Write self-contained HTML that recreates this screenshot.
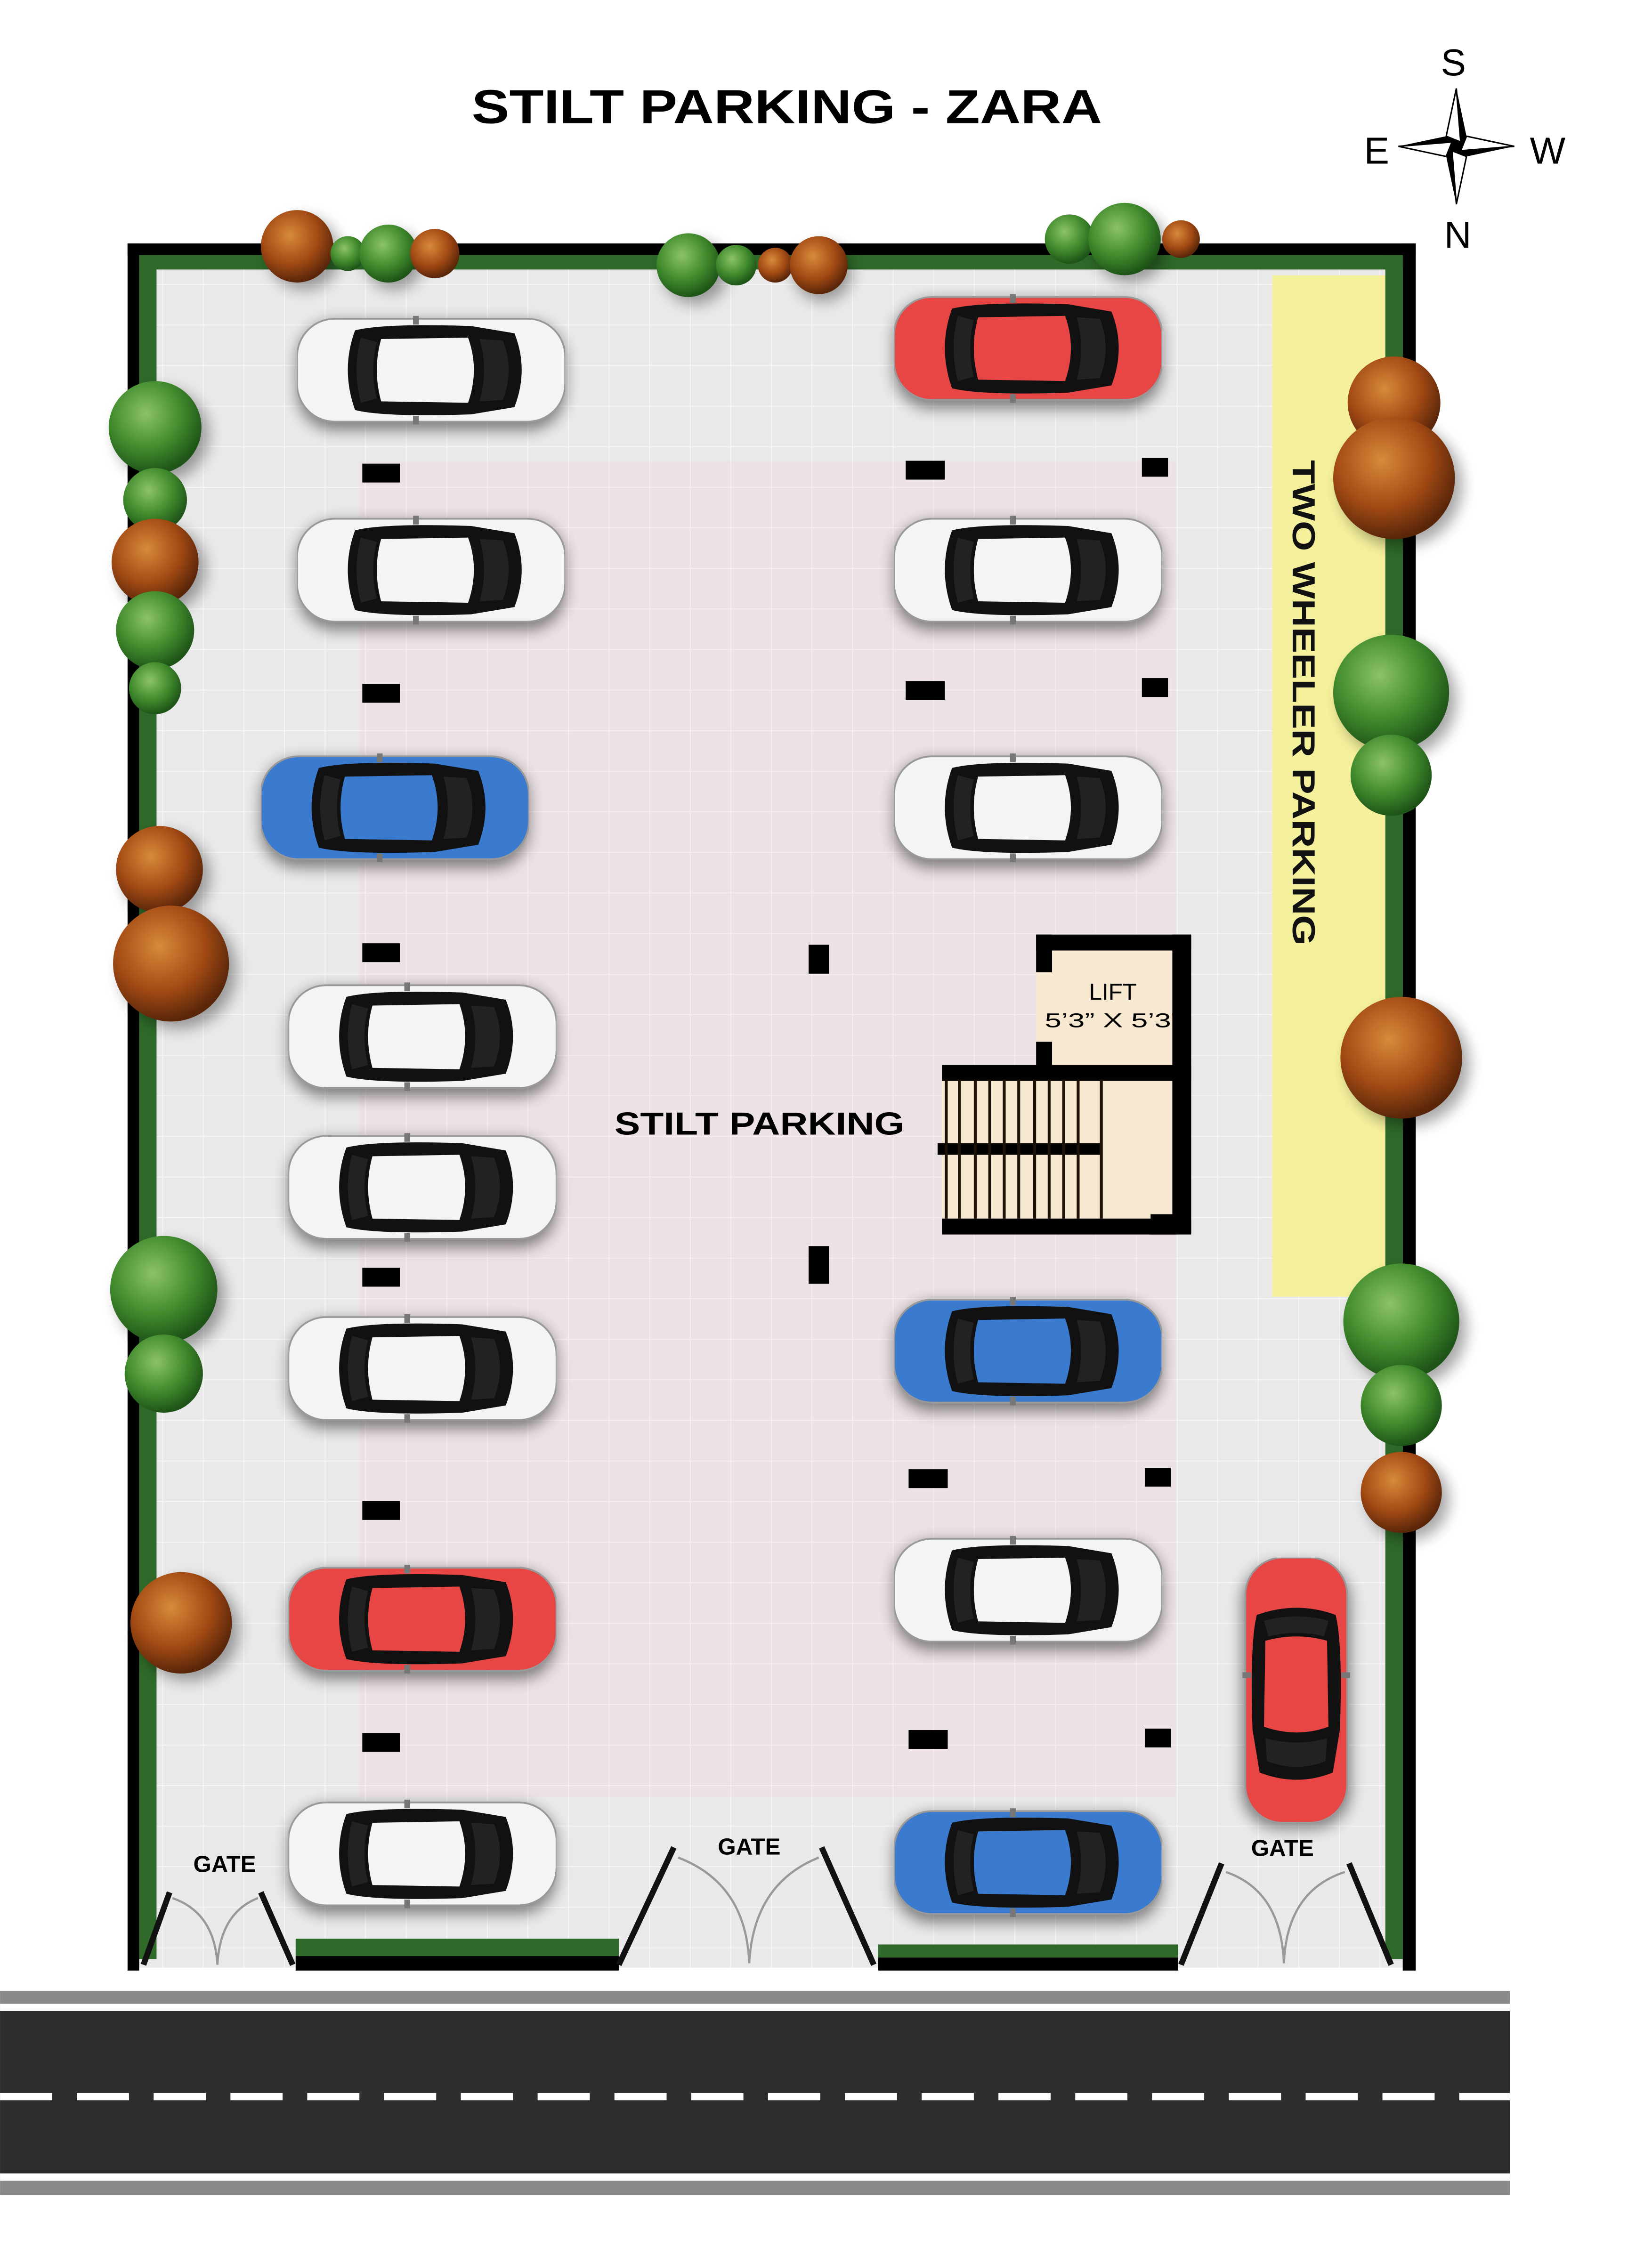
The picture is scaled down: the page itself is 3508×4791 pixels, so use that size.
<!DOCTYPE html>
<html><head><meta charset="utf-8"><style>
html,body{margin:0;padding:0;background:#fff}
svg{display:block}
text{font-family:"Liberation Sans",sans-serif}
</style></head><body>
<svg width="3508" height="4791" viewBox="0 0 1140 1557" xmlns="http://www.w3.org/2000/svg">
<defs>
<filter id="sh" x="-30%" y="-40%" width="160%" height="180%"><feGaussianBlur stdDeviation="5"/></filter>
<pattern id="tile" width="28" height="28" patternUnits="userSpaceOnUse"><rect width="28" height="28" fill="#e9e9ea"/><path d="M0 0H28M0 0V28" stroke="#f7f7f7" stroke-width="1.2"/></pattern>
<pattern id="tile2" width="28" height="28" patternUnits="userSpaceOnUse"><rect width="28" height="28" fill="#ece2e5"/><path d="M0 0H28M0 0V28" stroke="#f6eff1" stroke-width="1.2"/></pattern>
<radialGradient id="gG" cx="40%" cy="35%" r="65%"><stop offset="0" stop-color="#8cc26a"/><stop offset=".6" stop-color="#3f8a2c"/><stop offset="1" stop-color="#1f5418"/></radialGradient>
<radialGradient id="gB" cx="40%" cy="35%" r="65%"><stop offset="0" stop-color="#d88a3a"/><stop offset=".6" stop-color="#a24a14"/><stop offset="1" stop-color="#5a260a"/></radialGradient>
<symbol id="car" viewBox="0 0 185 75">
<rect x="0" y="2" width="185" height="71" rx="26" fill="currentColor" stroke="#999" stroke-width="1.2"/>
<path d="M40 10 Q60 5 120 7 L150 12 Q160 37 150 63 L120 68 Q60 70 40 65 Q30 37 40 10Z" fill="#111"/>
<path d="M58 16 L118 15 Q126 37 118 60 L58 59 Q52 37 58 16Z" fill="currentColor"/>
<path d="M44 15 L55 18 Q50 37 55 57 L44 60 Q38 37 44 15Z" fill="#222"/>
<path d="M126 16 L142 17 Q150 37 142 58 L126 59 Q132 37 126 16Z" fill="#222"/>
<rect x="80" y="0" width="4" height="6" fill="#777"/><rect x="80" y="69" width="4" height="6" fill="#777"/>
</symbol>
</defs>

<rect x="96" y="176" width="872" height="1182" fill="url(#tile)"/>
<rect x="248" y="318" width="564" height="922" fill="url(#tile2)"/>
<rect x="878" y="190" width="80" height="705" fill="#f4f09c"/>
<text transform="translate(892,485) rotate(90)" text-anchor="middle" font-size="22" font-weight="bold" fill="#111" textLength="335" lengthAdjust="spacingAndGlyphs">TWO WHEELER PARKING</text>

<rect x="96" y="176" width="12" height="1176" fill="#2f6a2a"/>
<rect x="96" y="176" width="872" height="10" fill="#2f6a2a"/>
<rect x="956" y="176" width="12" height="1176" fill="#2f6a2a"/>
<rect x="88" y="168" width="8" height="1192" fill="#000"/>
<rect x="88" y="168" width="889" height="8" fill="#000"/>
<rect x="968" y="168" width="9" height="1192" fill="#000"/>
<rect x="204" y="1338" width="223" height="12" fill="#2f6a2a"/>
<rect x="204" y="1350" width="223" height="10" fill="#000"/>
<rect x="606" y="1342" width="207" height="9" fill="#2f6a2a"/>
<rect x="606" y="1351" width="207" height="9" fill="#000"/>

<g stroke="#111" stroke-width="4" fill="none">
<path d="M99 1356 L117 1306 M202 1356 L180 1306"/>
<path d="M427 1356 L465 1275 M603 1356 L567 1275"/>
<path d="M815 1356 L843 1286 M960 1356 L931 1286"/>
</g>
<g stroke="#999" stroke-width="1.5" fill="none">
<path d="M119 1310 Q148 1320 150 1356 M178 1310 Q152 1320 150 1356"/>
<path d="M468 1282 Q515 1300 517 1355 M565 1282 Q520 1300 517 1355"/>
<path d="M846 1292 Q884 1305 886 1355 M928 1292 Q888 1305 886 1355"/>
</g>
<text x="155" y="1292" text-anchor="middle" font-size="16" font-weight="bold">GATE</text>
<text x="517" y="1280" text-anchor="middle" font-size="16" font-weight="bold">GATE</text>
<text x="885" y="1281" text-anchor="middle" font-size="16" font-weight="bold">GATE</text>

<g fill="#000">
<rect x="250" y="320" width="26" height="13"/><rect x="250" y="472" width="26" height="13"/><rect x="250" y="651" width="26" height="13"/><rect x="250" y="875" width="26" height="13"/><rect x="250" y="1036" width="26" height="13"/><rect x="250" y="1196" width="26" height="13"/>
<rect x="625" y="318" width="27" height="13"/><rect x="625" y="470" width="27" height="13"/><rect x="627" y="1014" width="27" height="13"/><rect x="627" y="1194" width="27" height="13"/>
<rect x="788" y="316" width="18" height="13"/><rect x="788" y="468" width="18" height="13"/><rect x="790" y="1013" width="18" height="13"/><rect x="790" y="1193" width="18" height="13"/>
<rect x="558" y="652" width="14" height="20"/><rect x="558" y="860" width="14" height="26"/>
</g>

<rect x="715" y="645" width="107" height="100" fill="#f7e8d2"/>
<rect x="650" y="745" width="172" height="100" fill="#f7e8d2"/>
<g fill="#000">
<rect x="715" y="645" width="107" height="11"/>
<rect x="715" y="645" width="11" height="26"/>
<rect x="715" y="719" width="11" height="20"/>
<rect x="809" y="645" width="13" height="206"/>
<rect x="650" y="735" width="172" height="11"/>
<rect x="650" y="841" width="172" height="11"/>
<rect x="794" y="838" width="18" height="14"/>
<rect x="647" y="789" width="112" height="8"/>
</g>
<g stroke="#1e120a" stroke-width="2">
<path d="M653 745V841M662 745V841M673 745V841M683 745V841M693 745V841M703 745V841M714 745V841M724 745V841M734 745V841M744 745V841M760 745V841"/>
</g>
<text x="768" y="690" text-anchor="middle" font-size="16">LIFT</text>
<text x="768" y="709" text-anchor="middle" font-size="14" textLength="94" lengthAdjust="spacingAndGlyphs">5’3” X 5’3”</text>
<text x="524" y="783" text-anchor="middle" font-size="22" font-weight="bold" textLength="200" lengthAdjust="spacingAndGlyphs">STILT PARKING</text>

<g fill="#000" opacity=".45" filter="url(#sh)">
<rect x="205" y="222" width="185" height="75" rx="26"/><rect x="205" y="360" width="185" height="75" rx="26"/><rect x="180" y="524" width="185" height="75" rx="26"/><rect x="199" y="682" width="185" height="75" rx="26"/><rect x="199" y="786" width="185" height="75" rx="26"/><rect x="199" y="911" width="185" height="75" rx="26"/><rect x="199" y="1084" width="185" height="75" rx="26"/><rect x="199" y="1246" width="185" height="75" rx="26"/>
<rect x="617" y="207" width="185" height="75" rx="26"/><rect x="617" y="360" width="185" height="75" rx="26"/><rect x="617" y="524" width="185" height="75" rx="26"/><rect x="617" y="899" width="185" height="75" rx="26"/><rect x="617" y="1064" width="185" height="75" rx="26"/><rect x="617" y="1252" width="185" height="75" rx="26"/>
<rect x="857" y="1079" width="75" height="183" rx="26"/>
</g>
<use href="#car" x="205" y="218" width="185" height="75" style="color:#f4f4f4"/>
<use href="#car" x="205" y="356" width="185" height="75" style="color:#f4f4f4"/>
<use href="#car" x="180" y="520" width="185" height="75" style="color:#3a7bd0"/>
<use href="#car" x="199" y="678" width="185" height="75" style="color:#f4f4f4"/>
<use href="#car" x="199" y="782" width="185" height="75" style="color:#f4f4f4"/>
<use href="#car" x="199" y="907" width="185" height="75" style="color:#f4f4f4"/>
<use href="#car" x="199" y="1080" width="185" height="75" style="color:#e84545"/>
<use href="#car" x="199" y="1242" width="185" height="75" style="color:#f4f4f4"/>
<use href="#car" x="617" y="203" width="185" height="75" style="color:#e84545"/>
<use href="#car" x="617" y="356" width="185" height="75" style="color:#f4f4f4"/>
<use href="#car" x="617" y="520" width="185" height="75" style="color:#f4f4f4"/>
<use href="#car" x="617" y="895" width="185" height="75" style="color:#3a7bd0"/>
<use href="#car" x="617" y="1060" width="185" height="75" style="color:#f4f4f4"/>
<use href="#car" x="617" y="1248" width="185" height="75" style="color:#3a7bd0"/>
<g transform="translate(932,1075) rotate(90)"><use href="#car" x="0" y="0" width="183" height="75" style="color:#e84545"/></g>

<g>
<g fill="#000" opacity=".35" filter="url(#sh)">
<circle cx="210" cy="175" r="25"/><circle cx="272" cy="180" r="20"/><circle cx="480" cy="188" r="22"/><circle cx="568" cy="188" r="20"/><circle cx="780" cy="170" r="25"/>
<circle cx="112" cy="300" r="32"/><circle cx="112" cy="393" r="30"/><circle cx="115" cy="605" r="30"/><circle cx="123" cy="670" r="40"/><circle cx="118" cy="895" r="37"/><circle cx="130" cy="1125" r="35"/>
<circle cx="967" cy="335" r="42"/><circle cx="965" cy="483" r="40"/><circle cx="972" cy="735" r="42"/><circle cx="972" cy="917" r="40"/><circle cx="972" cy="1035" r="28"/>
</g>
<circle cx="205" cy="170" r="25" fill="url(#gB)"/><circle cx="240" cy="175" r="12" fill="url(#gG)"/><circle cx="268" cy="175" r="20" fill="url(#gG)"/><circle cx="300" cy="175" r="17" fill="url(#gB)"/>
<circle cx="475" cy="183" r="22" fill="url(#gG)"/><circle cx="508" cy="183" r="14" fill="url(#gG)"/><circle cx="535" cy="183" r="12" fill="url(#gB)"/><circle cx="565" cy="183" r="20" fill="url(#gB)"/>
<circle cx="738" cy="165" r="17" fill="url(#gG)"/><circle cx="776" cy="165" r="25" fill="url(#gG)"/><circle cx="815" cy="165" r="13" fill="url(#gB)"/>
<circle cx="107" cy="295" r="32" fill="url(#gG)"/><circle cx="107" cy="345" r="22" fill="url(#gG)"/><circle cx="107" cy="388" r="30" fill="url(#gB)"/><circle cx="107" cy="435" r="27" fill="url(#gG)"/><circle cx="107" cy="475" r="18" fill="url(#gG)"/>
<circle cx="110" cy="600" r="30" fill="url(#gB)"/><circle cx="118" cy="665" r="40" fill="url(#gB)"/><circle cx="113" cy="890" r="37" fill="url(#gG)"/><circle cx="113" cy="948" r="27" fill="url(#gG)"/><circle cx="125" cy="1120" r="35" fill="url(#gB)"/>
<circle cx="962" cy="278" r="32" fill="url(#gB)"/><circle cx="962" cy="330" r="42" fill="url(#gB)"/><circle cx="960" cy="478" r="40" fill="url(#gG)"/><circle cx="960" cy="535" r="28" fill="url(#gG)"/>
<circle cx="967" cy="730" r="42" fill="url(#gB)"/><circle cx="967" cy="912" r="40" fill="url(#gG)"/><circle cx="967" cy="970" r="28" fill="url(#gG)"/><circle cx="967" cy="1030" r="28" fill="url(#gB)"/>
</g>

<rect x="0" y="1374" width="1042" height="141" fill="#8a8a8a"/>
<rect x="0" y="1383" width="1042" height="5" fill="#fff"/>
<rect x="0" y="1388" width="1042" height="112" fill="#2e2e2e"/>
<rect x="0" y="1500" width="1042" height="5" fill="#fff"/>
<line x1="0" y1="1447" x2="1042" y2="1447" stroke="#fff" stroke-width="5" stroke-dasharray="36 17"/>

<text x="543" y="85" text-anchor="middle" font-size="33" font-weight="bold" textLength="435" lengthAdjust="spacingAndGlyphs">STILT PARKING - ZARA</text>
<g transform="translate(1005,101)">
<path d="M0 -40 L7 -7 L40 0 L7 7 L0 40 L-7 7 L-40 0 L-7 -7Z" fill="#000"/>
<path d="M0 -40 L3 -3 L-7 -7Z M40 0 L3 3 L7 -7Z M0 40 L-3 3 L7 7Z M-40 0 L-3 -3 L-7 7Z" fill="#fff" stroke="#000" stroke-width="1"/>
</g>
<text x="1003" y="52" text-anchor="middle" font-size="26">S</text>
<text x="950" y="113" text-anchor="middle" font-size="26">E</text>
<text x="1068" y="113" text-anchor="middle" font-size="26">W</text>
<text x="1006" y="171" text-anchor="middle" font-size="26">N</text>
</svg>
</body></html>
